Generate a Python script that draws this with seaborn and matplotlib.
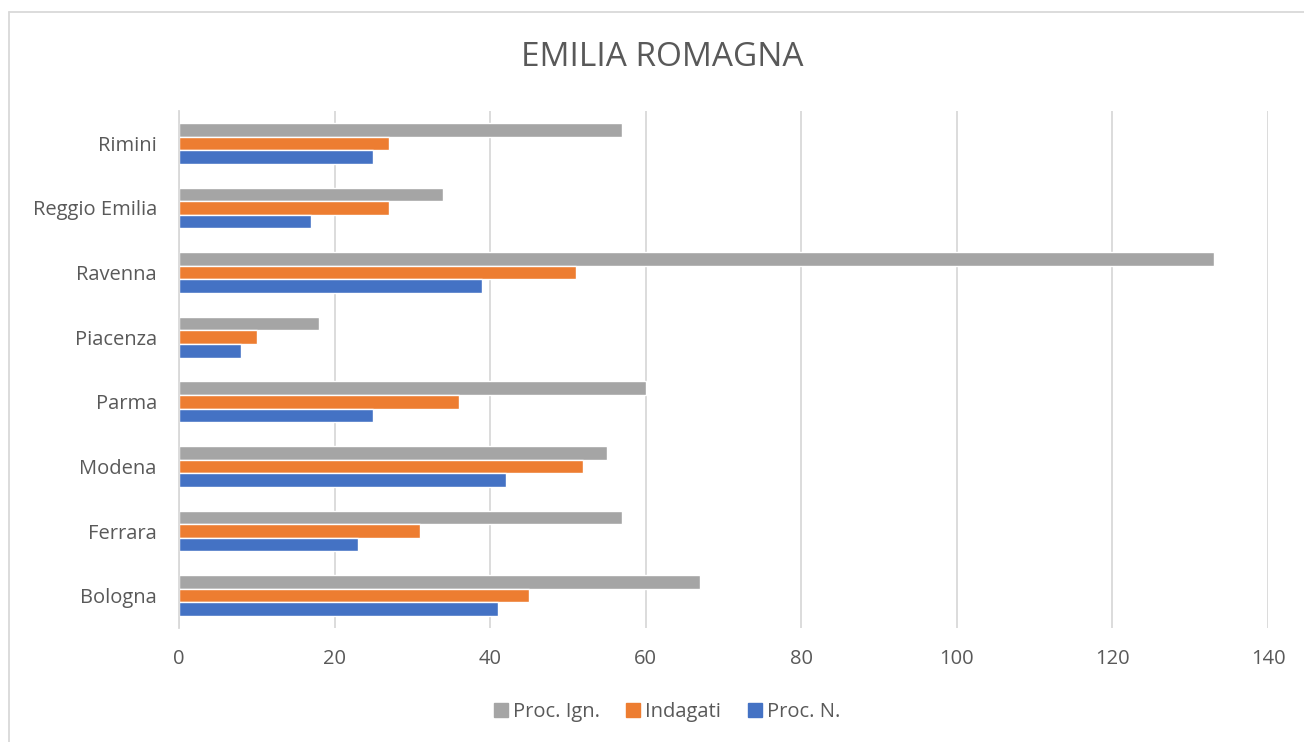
import matplotlib
matplotlib.use("Agg")
import matplotlib.pyplot as plt
import matplotlib.lines as mlines
import seaborn as sns
import pandas as pd

provinces = ["Rimini", "Reggio Emilia", "Ravenna", "Piacenza", "Parma", "Modena", "Ferrara", "Bologna"]
proc_ign = [57, 34, 133, 18, 60, 55, 57, 67]
indagati = [27, 27, 51, 10, 36, 52, 31, 45]
proc_n = [25, 17, 39, 8, 25, 42, 23, 41]
series = ["Proc. Ign.", "Indagati", "Proc. N."]
colors = ["#A5A5A5", "#ED7D31", "#4472C4"]

df = pd.DataFrame({
    "Provincia": provinces * 3,
    "Serie": [series[0]] * 8 + [series[1]] * 8 + [series[2]] * 8,
    "Valore": proc_ign + indagati + proc_n,
})

sns.set_style("white")
plt.rcParams["font.family"] = ["Open Sans", "DejaVu Sans"]
text_col = "#595959"

fig = plt.figure(figsize=(13.04, 7.42), dpi=100)
ax = fig.add_axes([179 / 1304, 1 - 628 / 742, (1268 - 179) / 1304, (628 - 111) / 742])

sns.barplot(data=df, y="Provincia", x="Valore", hue="Serie", order=provinces,
            hue_order=series, palette=colors, orient="h", width=0.63,
            saturation=1, ax=ax, legend=False)

ax.set_xlim(0, 140)
ax.set_xticks(range(0, 141, 20))
ax.xaxis.grid(True, color="#D9D9D9", linewidth=1.3)
ax.set_axisbelow(True)
for s in ["top", "right", "bottom"]:
    ax.spines[s].set_visible(False)
ax.spines["left"].set_color("#D9D9D9")
ax.spines["left"].set_linewidth(1.3)
ax.set_xlabel("")
ax.set_ylabel("")
ax.tick_params(axis="y", length=0, labelsize=14.5, colors=text_col, pad=16)
ax.tick_params(axis="x", length=0, labelsize=14.5, colors=text_col, pad=15)

fig.text(662 / 1304, 1 - 57 / 742, "EMILIA ROMAGNA", ha="center", va="center",
         fontsize=24, color=text_col)

handles = [mlines.Line2D([], [], marker="s", linestyle="", markersize=10,
                         color=c, label=l) for c, l in zip(colors, series)]
fig.legend(handles=handles, loc="center", bbox_to_anchor=(667 / 1304, 1 - 712 / 742),
           ncol=3, frameon=False, fontsize=14.5, labelcolor=text_col,
           handlelength=0.7, handletextpad=0.25, columnspacing=1.3)

# chart frame
fig.add_artist(mlines.Line2D([9 / 1304, 9 / 1304], [0, 1 - 12 / 742],
                             transform=fig.transFigure, color="#D9D9D9", linewidth=1.3))
fig.add_artist(mlines.Line2D([9 / 1304, 1], [1 - 12 / 742, 1 - 12 / 742],
                             transform=fig.transFigure, color="#D9D9D9", linewidth=1.3))

fig.savefig("out.png", dpi=100)
